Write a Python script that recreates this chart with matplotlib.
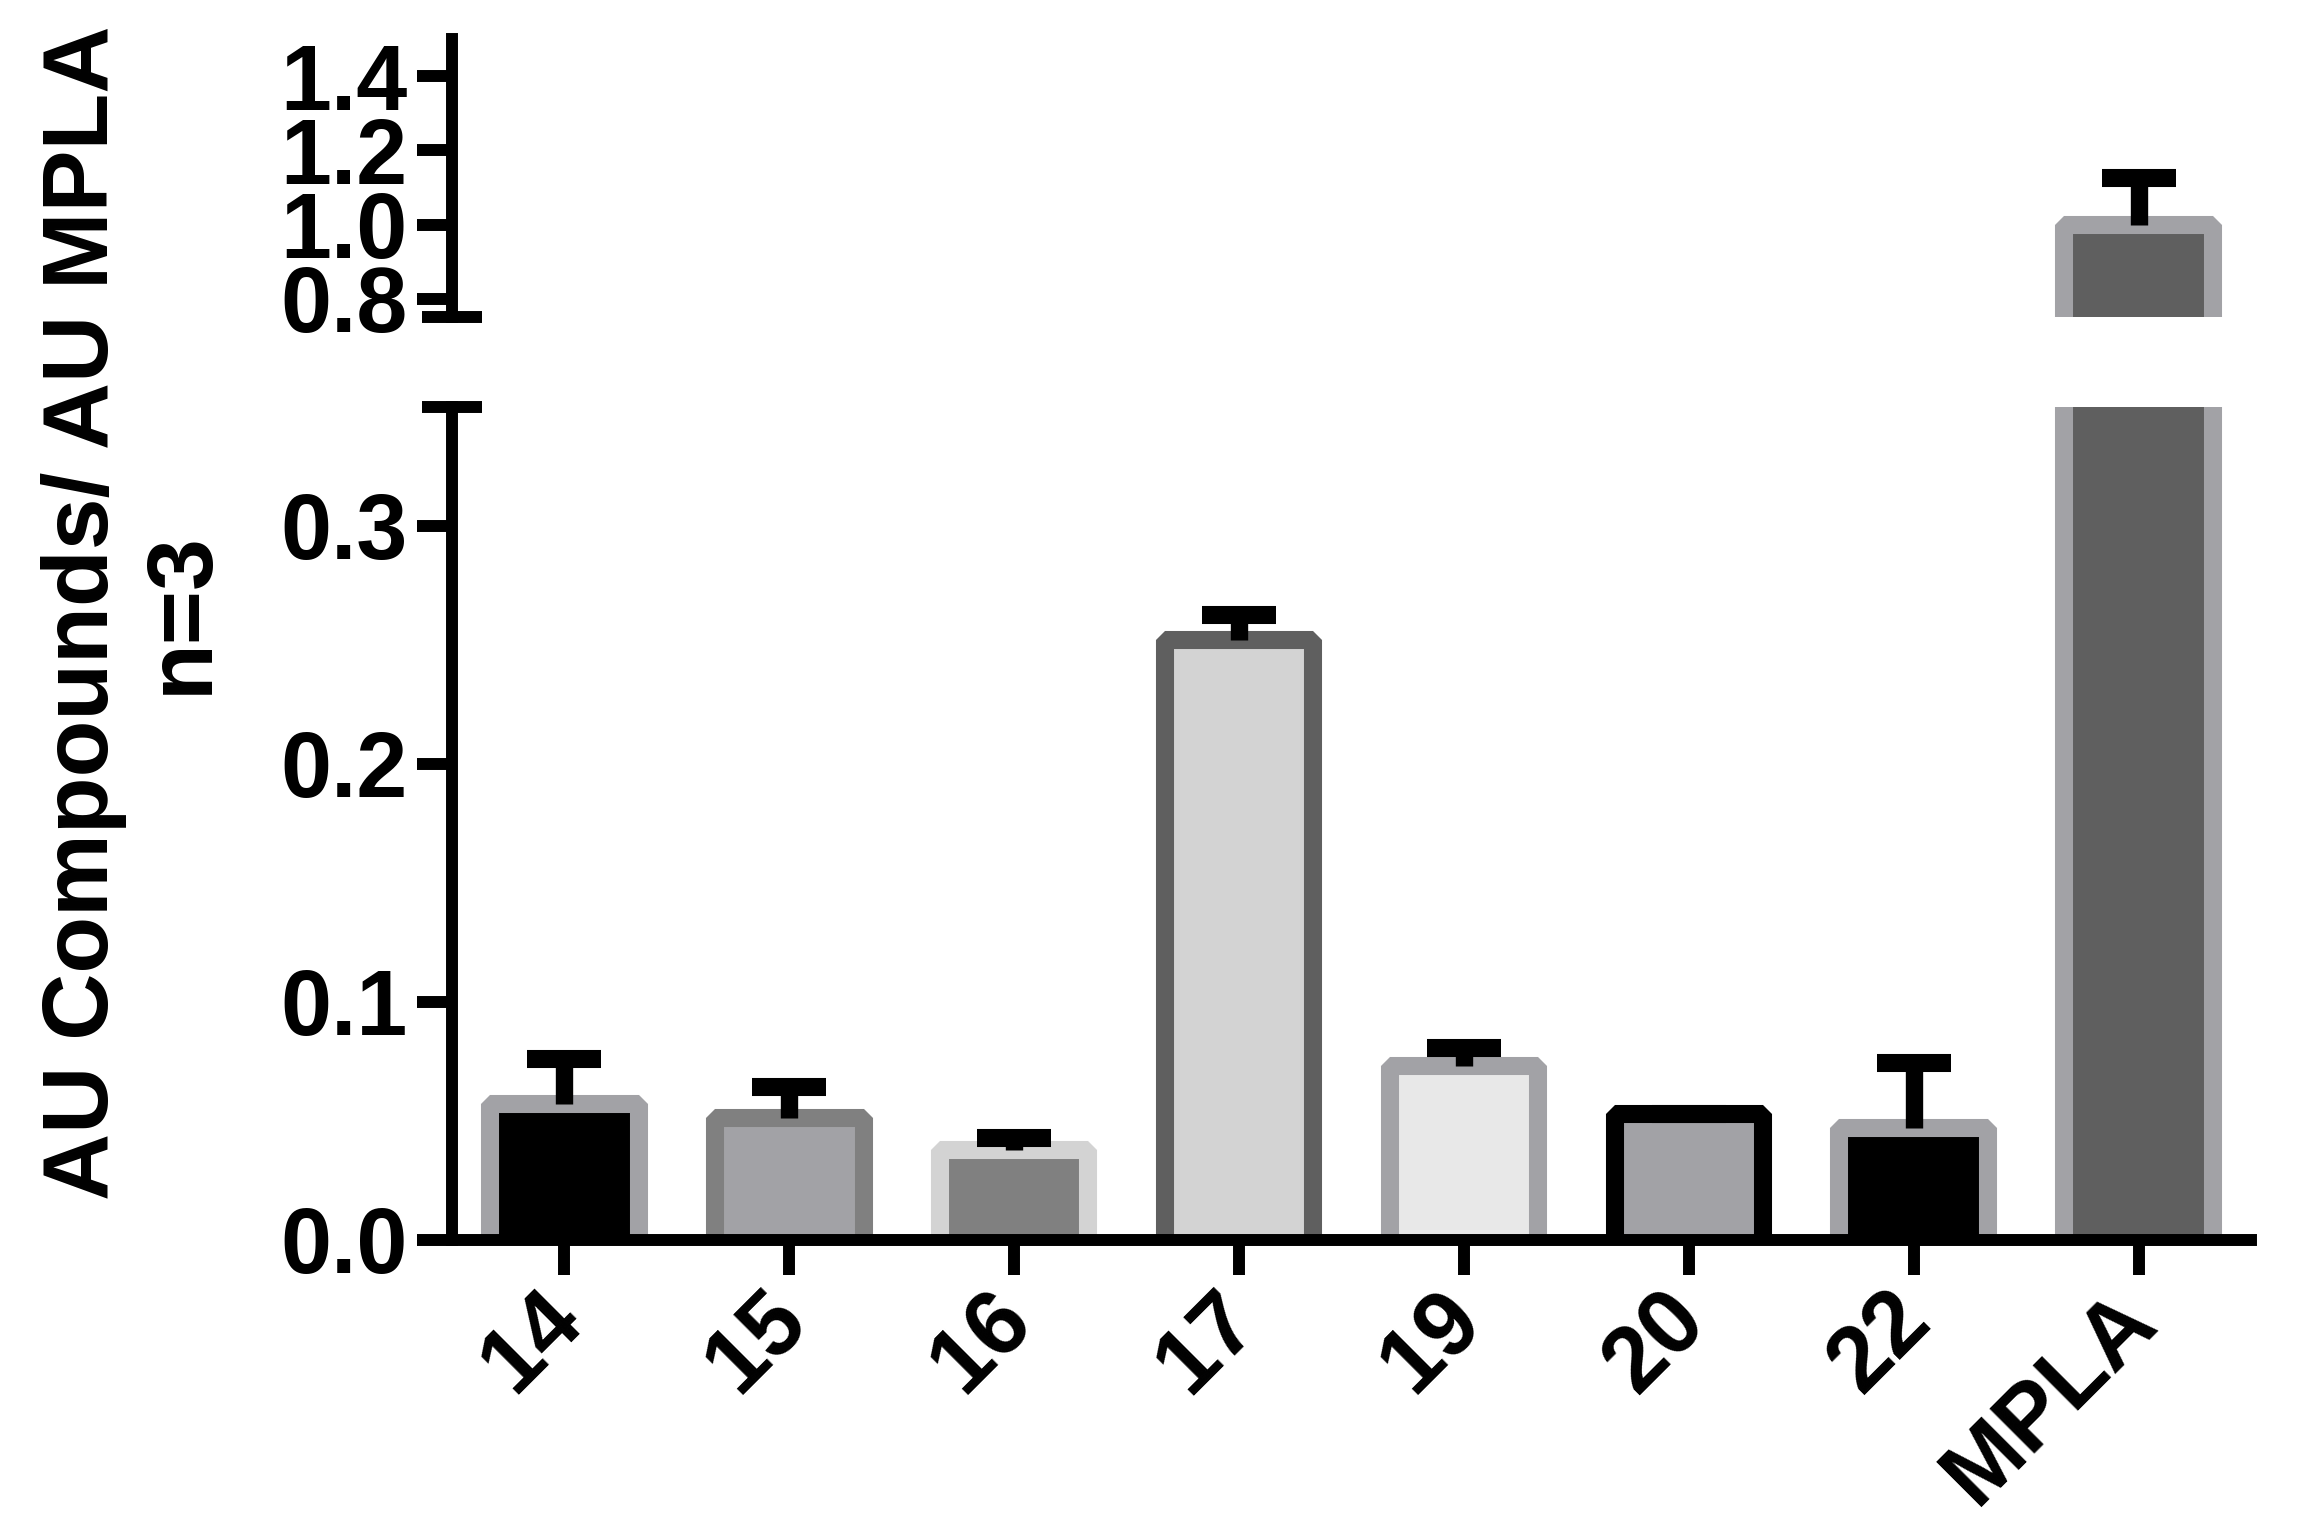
import matplotlib
matplotlib.use("Agg")
import matplotlib.pyplot as plt
import matplotlib.transforms as mtransforms
import numpy as np

# ---- data ----
categories = ["14", "15", "16", "17", "19", "20", "22", "MPLA"]
values = [0.057, 0.051, 0.0375, 0.252, 0.073, 0.0527, 0.047, 1.0]
errors = [0.019, 0.013, 0.005, 0.0106, 0.0076, 0.0, 0.0273, 0.126]
face_colors = ["#000000", "#a2a2a6", "#808080", "#d3d3d3", "#e8e8e8", "#a2a2a6", "#000000", "#5f5f5f"]
edge_colors = ["#a2a2a6", "#808080", "#d3d3d3", "#5f5f5f", "#a2a2a6", "#000000", "#a2a2a6", "#a2a2a6"]
low_ticks = [0.0, 0.1, 0.2, 0.3]
top_ticks = [0.8, 1.0, 1.2, 1.4]

plt.rcParams['font.family'] = ['Liberation Sans', 'DejaVu Sans']
plt.rcParams['font.weight'] = 'bold'

W, H = 2299, 1539
fig = plt.figure(figsize=(W / 100, H / 100), dpi=100)

left = 452 / W
right = 2251 / W
low_bot = (H - 1239.5) / H
low_top = (H - 407) / H
top_bot = (H - 317) / H
top_top = (H - 39) / H

ax_low = fig.add_axes([left, low_bot, right - left, low_top - low_bot])
ax_top = fig.add_axes([left, top_bot, right - left, top_top - top_bot])

x = np.arange(len(categories))
SPINE_LW = 8.6
BAR_LW = 13
TICK_LEN = 25
FS = 66

for ax in (ax_low, ax_top):
    ax.bar(x, np.array(values) + 0.004, bottom=-0.004, width=0.66,
           color=face_colors, edgecolor=edge_colors, linewidth=BAR_LW,
           joinstyle='bevel', zorder=1)
    tops = np.array(values) + np.array(errors)
    ax.vlines(x, values, tops, colors='black', linewidth=12.5, zorder=2)
    ax.plot(x, tops, ls='none', marker='_', markersize=53,
            markeredgewidth=BAR_LW, color='black', zorder=2)
    ax.set_xlim(-0.5, 7.5)
    for s in ('top', 'right'):
        ax.spines[s].set_visible(False)
    ax.spines['left'].set_linewidth(SPINE_LW)
    ax.spines['bottom'].set_linewidth(SPINE_LW)
    ax.tick_params(axis='both', length=TICK_LEN, width=SPINE_LW, labelsize=FS, pad=7)

ax_low.set_ylim(0, 0.35)
ax_low.set_yticks(low_ticks)
ax_low.set_yticklabels([f"{t:.1f}" for t in low_ticks])
ax_low.set_xticks(x)
labels = ax_low.set_xticklabels(categories, rotation=45, ha='right', fontsize=FS)
offset = mtransforms.ScaledTranslation(34 / 100, 8 / 100, fig.dpi_scale_trans)
for lab in labels:
    lab.set_transform(lab.get_transform() + offset)

ax_top.set_ylim(0.751, 1.5)
ax_top.set_yticks(top_ticks)
ax_top.set_yticklabels([f"{t:.1f}" for t in top_ticks])
ax_top.spines['bottom'].set_visible(False)
ax_top.set_xticks([])

# axis break markers
ax_low.plot([0], [1], transform=ax_low.transAxes, marker='_', markersize=43,
            markeredgewidth=SPINE_LW, color='black', clip_on=False, zorder=3)
ax_top.plot([0], [0], transform=ax_top.transAxes, marker='_', markersize=43,
            markeredgewidth=SPINE_LW, color='black', clip_on=False, zorder=3)

fig.text(0.058, 0.602, "AU Compounds/ AU MPLA\nn=3", rotation=90,
         ha='center', va='center', multialignment='center',
         fontsize=67, fontweight='bold')

fig.savefig("out.png", dpi=100, facecolor='white')
